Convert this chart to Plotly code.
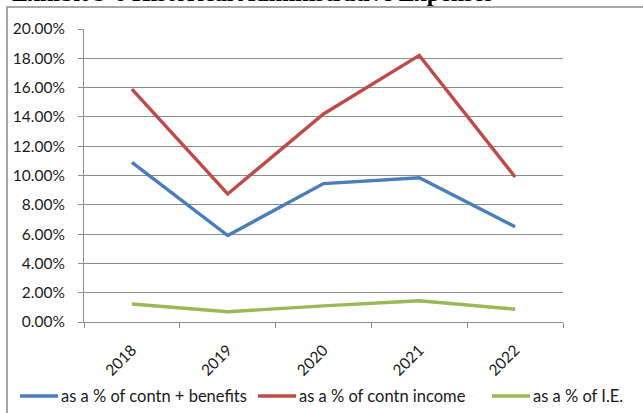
import plotly.graph_objects as go

# Administrative expense ratios by year
years = ["2018", "2019", "2020", "2021", "2022"]
pct_contn_benefits = [0.1090, 0.0590, 0.0945, 0.0985, 0.0650]
pct_contn_income = [0.1590, 0.0874, 0.1420, 0.1820, 0.0990]
pct_ie = [0.0123, 0.0070, 0.0110, 0.0145, 0.0087]

series_names = ["as a % of contn + benefits", "as a % of contn income", "as a % of I.E."]
series_colors = ["#4A7EBB", "#BE4B48", "#98B954"]

W, H = 643, 413
L, R, T, B = 84, 80, 29, 91
pw, ph = W - L - R, H - T - B

def px_x(x):
    return (x - L) / pw

def px_y(y):
    return (H - B - y) / ph

fig = go.Figure()
for name, vals, col in zip(series_names,
                           [pct_contn_benefits, pct_contn_income, pct_ie],
                           series_colors):
    fig.add_trace(go.Scatter(
        x=years, y=vals, name=name, mode="lines",
        line=dict(color=col, width=3.4), showlegend=False,
    ))

# legend row along the bottom: line sample followed by its label
legend_line_x = [(20, 58), (258, 296), (492, 530)]
legend_y = 396
shapes = []
annotations = []
for name, col, (xa, xb) in zip(series_names, series_colors, legend_line_x):
    shapes.append(dict(
        type="line", xref="paper", yref="paper",
        x0=px_x(xa), x1=px_x(xb), y0=px_y(legend_y), y1=px_y(legend_y),
        line=dict(color=col, width=3.4),
    ))
    annotations.append(dict(
        text=name, xref="paper", yref="paper",
        x=px_x(xb + 2), y=px_y(legend_y), xanchor="left", yanchor="middle",
        showarrow=False, borderpad=0,
        font=dict(family="Lato", size=16.5, color="#1a1a1a"),
    ))

axis_grey = "#8C8C8C"
# outer chart frame
shapes.append(dict(
    type="rect", xref="paper", yref="paper",
    x0=px_x(7), x1=px_x(660), y0=px_y(430), y1=px_y(7),
    line=dict(color=axis_grey, width=1.5), fillcolor="rgba(0,0,0,0)",
    layer="below",
))
annotations.append(dict(
    text="<b>Exhibit 3-6 Historical Administrative Expenses</b>",
    xref="paper", yref="paper", x=px_x(10), y=px_y(8.5),
    xanchor="left", yanchor="bottom", showarrow=False,
    font=dict(family="Liberation Serif", size=24, color="black"),
))

fig.update_layout(
    width=W, height=H,
    margin=dict(l=L, r=R, t=T, b=B, pad=0, autoexpand=False),
    paper_bgcolor="white", plot_bgcolor="white",
    font=dict(family="Lato", size=15, color="#1a1a1a"),
    showlegend=False,
    xaxis=dict(
        type="category", range=[-0.5, 4.5],
        showgrid=False, zeroline=False,
        showline=True, linecolor=axis_grey, linewidth=1,
        ticks="outside", ticklen=5, tickcolor=axis_grey, tickson="boundaries",
        tickangle=-45, tickfont=dict(size=15.5), ticklabelstandoff=12,
    ),
    yaxis=dict(
        range=[0, 0.2], dtick=0.02, tickformat=".2%",
        showgrid=True, gridcolor=axis_grey, gridwidth=1,
        zeroline=False,
        showline=True, linecolor=axis_grey, linewidth=1,
        ticks="outside", ticklen=5, tickcolor=axis_grey,
        ticklabelstandoff=10, tickfont=dict(size=15.5),
    ),
    shapes=shapes,
    annotations=annotations,
)

fig.write_html("out.html")
